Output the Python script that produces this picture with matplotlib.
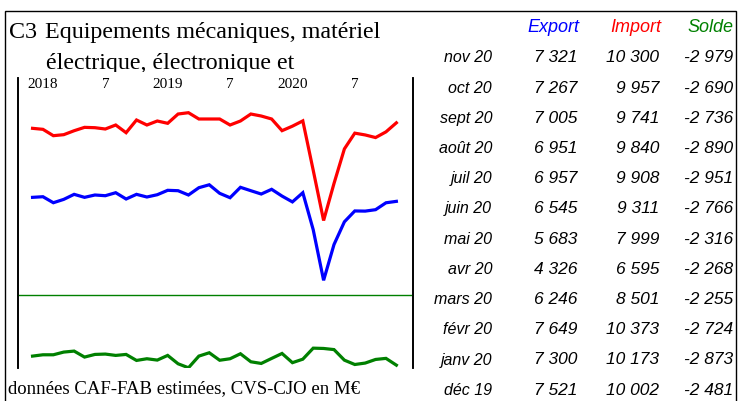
import numpy as np
import matplotlib
matplotlib.use("Agg")
import matplotlib.pyplot as plt
from matplotlib.patches import Rectangle
from matplotlib.transforms import Bbox, TransformedBbox

# monthly series, dec 2017 -> nov 2020 (M EUR)
export = [7473, 7497, 7269, 7396, 7587, 7473, 7562, 7535, 7649, 7410, 7587, 7486,
          7573, 7740, 7725, 7562, 7839, 7950, 7626, 7459, 7854, 7725, 7599, 7778,
          7521, 7300, 7649, 6246, 4326, 5683, 6545, 6957, 6951, 7005, 7267, 7321]
imports = [10091, 10053, 9812, 9850, 10000, 10128, 10115, 10065, 10217, 9925, 10407, 10217,
           10369, 10281, 10634, 10684, 10445, 10445, 10445, 10217, 10369, 10634, 10558, 10445,
           10002, 10173, 10373, 8501, 6595, 7999, 9311, 9908, 9840, 9741, 9957, 10300]
solde = [-2593, -2537, -2537, -2422, -2380, -2635, -2522, -2507, -2564, -2522, -2778, -2706,
         -2763, -2564, -2920, -3090, -2593, -2451, -2770, -2706, -2493, -2835, -2906, -2692,
         -2481, -2873, -2724, -2255, -2268, -2316, -2766, -2951, -2890, -2736, -2690, -2979]

tick_pos = [1, 7, 13, 19, 25, 31]
tick_labels = ["2018", "7", "2019", "7", "2020", "7"]

table_months = ["nov 20", "oct 20", "sept 20", "août 20", "juil 20", "juin 20",
                "mai 20", "avr 20", "mars 20", "févr 20", "janv 20", "déc 19"]

RED = "#ff0000"
BLUE = "#0000ff"
GREEN = "#008000"

W, H = 741, 401
fig = plt.figure(figsize=(W / 100, H / 100), dpi=100)

def fx(px):
    return px / W

def fy(py):
    return 1 - py / H

# frame around the whole panel (bottom edge falls outside the picture)
fig.patches.append(Rectangle((fx(5), -0.05), fx(736) - fx(5), fy(11) + 0.05,
                             transform=fig.transFigure, fill=False,
                             edgecolor="black", linewidth=1.0))

serif = ["Liberation Serif", "DejaVu Serif"]
sans = ["Liberation Sans", "DejaVu Sans"]

fig.text(fx(9), fy(38), "C3", family=serif, fontsize=17.3, va="baseline")
fig.text(fx(45), fy(38), "Equipements mécaniques, matériel", family=serif,
         fontsize=17.3, va="baseline")
# second title line is cut off by the chart in the original
t2 = fig.text(fx(46), fy(69), "électrique, électronique et", family=serif,
              fontsize=17.3, va="baseline")
t2.set_clip_box(TransformedBbox(Bbox([[0, fy(72)], [1, 1]]), fig.transFigure))
t2.set_clip_on(True)

fig.text(fx(8), fy(389), "données CAF-FAB estimées, CVS-CJO en M€", family=serif,
         fontsize=13.5, va="center")

# chart
ax = fig.add_axes([fx(18), fy(368), fx(413) - fx(18), fy(78) - fy(368)])
x = np.arange(len(export))
ax.plot(x, imports, color=RED, lw=2.3, solid_joinstyle="miter")
ax.plot(x, export, color=BLUE, lw=2.3, solid_joinstyle="miter")
ax.set_xlim(-1.4, 36.6)
ax.set_ylim(1000, 12000)
ax.set_yticks([])

ax2 = ax.twinx()
ax2.plot(x, solde, color=GREEN, lw=2.3, solid_joinstyle="miter")
ax2.axhline(0, color=GREEN, lw=1.0)
ax2.set_ylim(-3100, 9250)
ax2.set_yticks([])

for a in (ax, ax2):
    a.spines["top"].set_visible(False)
    a.spines["bottom"].set_visible(False)
    a.spines["left"].set_linewidth(1.2)
    a.spines["right"].set_linewidth(1.2)
    a.patch.set_visible(False)

ax.xaxis.tick_top()
ax.set_xticks(tick_pos)
ax.set_xticklabels(tick_labels, family=serif, fontsize=11)
ax.tick_params(axis="x", length=0, pad=-9.5)

# table on the right
fig.text(fx(579), fy(28), "Export", family=sans, style="italic", fontsize=13,
         color=BLUE, ha="right", va="center")
fig.text(fx(661), fy(28), "Import", family=sans, style="italic", fontsize=13,
         color=RED, ha="right", va="center")
fig.text(fx(733), fy(28), "Solde", family=sans, style="italic", fontsize=13,
         color=GREEN, ha="right", va="center")

def fmt(v):
    return f"{v:,}".replace(",", " ")

for i, month in enumerate(table_months):
    k = len(export) - 1 - i
    y = fy(58 + i * 30.2)
    fig.text(fx(492), y, month, family=sans, style="italic", fontsize=11.5,
             ha="right", va="center")
    fig.text(fx(577), y, fmt(export[k]), family=sans, style="italic", fontsize=12.5,
             ha="right", va="center")
    fig.text(fx(659), y, fmt(imports[k]), family=sans, style="italic", fontsize=12.5,
             ha="right", va="center")
    fig.text(fx(733), y, fmt(solde[k]), family=sans, style="italic", fontsize=12.5,
             ha="right", va="center")

fig.savefig("out.png", dpi=100)
